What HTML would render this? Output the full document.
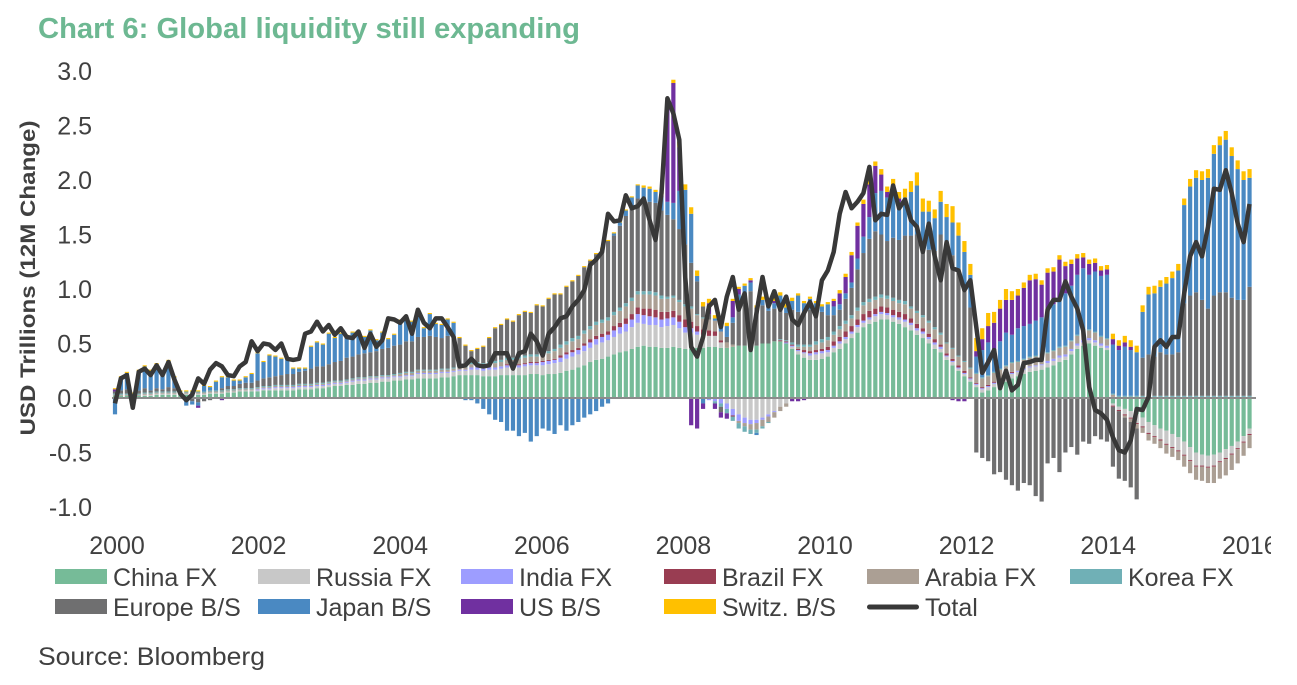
<!DOCTYPE html>
<html><head><meta charset="utf-8"><style>
body{margin:0;background:#fff;width:1297px;height:685px;overflow:hidden;font-family:"Liberation Sans",sans-serif;}
svg{position:absolute;left:0;top:0}
</style></head><body>
<svg id="chart" width="1297" height="685" viewBox="0 0 1297 685">
<defs><clipPath id="clipx"><rect x="0" y="0" width="1271" height="685"/></clipPath></defs>
<text x="38" y="38" font-size="29" font-weight="bold" fill="#6db892" textLength="542" lengthAdjust="spacingAndGlyphs">Chart 6: Global liquidity still expanding</text>
<text transform="translate(35,278) rotate(-90)" text-anchor="middle" font-size="21" font-weight="bold" fill="#404040" textLength="315" lengthAdjust="spacingAndGlyphs">USD Trillions (12M Change)</text>
<text x="38" y="665" font-size="25" fill="#404040" textLength="227" lengthAdjust="spacingAndGlyphs">Source: Bloomberg</text>
<g id="bars"></g><g id="axes"></g><g id="legend"></g>
</svg>
<script>
const years=["2000","2002","2004","2006","2008","2010","2012","2014","2016"];
const yTicks=[3.0,2.5,2.0,1.5,1.0,0.5,0.0,-0.5,-1.0];
const china=[.02,.02,.02,.02,.02,.02,.02,.03,.03,.03,.03,.03,
.03,.03,.03,.03,.04,.04,.04,.05,.05,.06,.06,.06,
.06,.07,.07,.07,.07,.07,.07,.08,.08,.08,.09,.09,
.10,.11,.11,.12,.12,.13,.13,.14,.14,.15,.15,.16,
.16,.17,.17,.18,.18,.18,.18,.19,.19,.20,.21,.21,
.21,.21,.20,.20,.20,.21,.21,.21,.21,.21,.22,.22,
.21,.22,.22,.23,.25,.26,.28,.30,.33,.35,.36,.38,
.40,.42,.43,.45,.47,.48,.47,.47,.46,.46,.47,.46,
.45,.45,.46,.46,.47,.47,.46,.46,.47,.48,.48,.48,
.48,.50,.50,.52,.52,.50,.45,.40,.37,.35,.35,.36,
.38,.42,.45,.50,.55,.60,.65,.68,.70,.72,.72,.70,
.68,.65,.62,.58,.55,.50,.45,.42,.35,.30,.25,.20,
.15,.10,.05,.07,.10,.12,.15,.18,.20,.22,.24,.25,
.26,.28,.30,.33,.35,.40,.45,.48,.50,.48,.46,.44,
-.05,-.08,-.10,-.12,-.15,-.18,-.22,-.25,-.28,-.30,-.33,-.36,
-.40,-.45,-.50,-.52,-.53,-.52,-.50,-.47,-.44,-.40,-.35,-.28];
const russia=[0,0,0,0,0,.01,.01,.01,.01,.01,.01,.01,
.01,.01,.01,.01,.01,.01,.01,.01,.01,.01,.01,.01,
.01,.01,.01,.02,.02,.02,.02,.02,.02,.02,.02,.02,
.02,.02,.02,.02,.03,.03,.03,.03,.03,.03,.03,.03,
.03,.03,.03,.04,.04,.04,.04,.04,.04,.04,.04,.04,
.05,.05,.05,.06,.06,.06,.07,.07,.07,.08,.08,.08,
.09,.09,.10,.10,.11,.12,.12,.13,.13,.14,.15,.15,
.16,.17,.18,.20,.22,.20,.20,.20,.19,.20,.20,.18,
.15,.15,.12,.12,.10,.10,.05,-.05,-.10,-.15,-.18,-.20,
-.20,-.18,-.15,-.12,-.08,-.05,.02,.03,.04,.04,.05,.05,
.04,.04,.05,.04,.04,.05,.04,.04,.05,.05,.04,.04,
.04,.05,.05,.04,.04,.04,.04,.03,.03,.03,.02,.02,
.02,.02,.03,.03,.03,.04,.04,.04,.04,.04,.04,.04,
.04,.04,.04,.04,.03,.03,.03,.03,.03,.03,.02,.02,
-.02,-.03,-.05,-.06,-.08,-.08,-.10,-.10,-.10,-.12,-.12,-.12,
-.12,-.12,-.12,-.10,-.10,-.10,-.08,-.08,-.07,-.06,-.05,-.05];
const india=[0,0,0,0,0,0,0,0,0,0,0,0,
0,0,0,0,0,0,0,0,0,0,0,0,
.01,.01,.01,.01,.01,.01,.01,.01,.01,.01,.01,.01,
.01,.01,.01,.01,.01,.01,.01,.01,.01,.01,.01,.01,
.01,.01,.01,.01,.01,.01,.01,.01,.01,.01,.01,.01,
.02,.02,.02,.02,.02,.02,.02,.02,.02,.02,.02,.02,
.03,.03,.03,.04,.04,.04,.04,.05,.05,.05,.05,.05,
.06,.06,.07,.07,.08,.08,.08,.07,.07,.07,.07,.06,
.05,.04,.03,0,-.02,-.03,-.05,-.05,-.06,-.06,-.05,-.04,
-.03,-.02,-.02,-.01,0,.01,.01,.01,.01,.02,.02,.02,
.02,.02,.02,.02,.02,.02,.02,.02,.02,.02,.02,.02,
.02,.02,.02,.02,.02,.02,.02,.02,.01,.01,.01,.01,
.01,.01,.01,.01,.01,.01,.01,.01,.01,.01,.01,.01,
.01,.02,.02,.02,.02,.02,.02,.02,.02,.02,.02,.02,
.01,.01,.01,.01,.01,.01,.01,.01,.01,.01,.01,.01,
.01,.01,.01,.01,.01,.01,.01,.01,.01,.01,.01,.01];
const brazil=[0,0,0,0,0,0,0,0,0,0,0,0,
0,0,0,0,0,0,0,0,0,0,0,0,
0,0,0,0,0,0,0,0,0,0,0,0,
0,0,0,0,0,0,0,0,0,0,0,0,
0,0,0,0,0,0,0,0,0,0,0,0,
0,0,0,0,0,0,.01,.01,.01,.01,.01,.01,
.01,.01,.01,.02,.02,.02,.02,.02,.03,.03,.03,.03,
.04,.04,.05,.05,.06,.06,.07,.07,.07,.06,.06,.06,
.07,.06,.05,.05,.05,.04,.02,0,-.01,0,0,0,
0,0,0,0,.01,.01,.01,.01,.02,.02,.02,.02,
.03,.04,.04,.05,.05,.05,.06,.06,.05,.05,.05,.05,
.05,.05,.04,.04,.03,.03,.03,.02,.02,.02,.02,.02,
.01,.01,.01,.01,.01,.01,.01,.01,0,0,0,0,
0,0,0,0,0,0,0,0,0,0,0,0,
-.01,-.01,-.01,-.01,-.01,-.01,-.01,-.01,-.01,-.01,-.01,-.01,
-.01,-.01,-.01,-.01,-.01,-.01,-.01,-.01,-.01,-.01,-.01,-.01];
const arabia=[.01,.01,.01,.01,.01,.01,.01,.01,.01,.01,.01,.01,
.01,.01,.01,.01,.01,.01,.01,.01,.01,.01,.01,.01,
.01,.01,.01,.01,.01,.01,.01,.01,.01,.01,.01,.01,
.01,.01,.01,.01,.01,.01,.01,.01,.01,.01,.01,.01,
.02,.02,.02,.02,.02,.02,.02,.02,.02,.02,.02,.02,
.03,.03,.03,.03,.04,.04,.04,.04,.05,.05,.05,.05,
.06,.06,.07,.07,.07,.08,.08,.09,.09,.10,.10,.10,
.10,.11,.11,.12,.12,.13,.13,.13,.12,.12,.12,.12,
.12,.12,.10,.10,.10,.10,.08,.05,.02,-.02,-.03,-.05,
-.06,-.06,-.05,-.05,-.04,-.03,0,.02,.03,.04,.05,.06,
.06,.06,.07,.07,.07,.08,.08,.08,.08,.08,.08,.08,
.08,.09,.09,.10,.10,.10,.09,.09,.09,.09,.08,.08,
.08,.08,.08,.08,.08,.08,.08,.08,.08,.08,.08,.08,
.07,.07,.07,.07,.07,.07,.07,.07,.07,.07,.06,.06,
.02,0,-.02,-.03,-.04,-.05,-.06,-.06,-.07,-.08,-.08,-.08,
-.10,-.11,-.12,-.13,-.14,-.15,-.15,-.15,-.14,-.13,-.12,-.12];
const korea=[.01,.01,.01,.01,.01,.01,.01,.01,.01,.01,.01,.01,
.01,.01,.01,.01,.01,.01,.01,.01,.01,.01,.01,.01,
.01,.01,.01,.01,.01,.01,.01,.01,.01,.01,.01,.01,
.01,.01,.01,.01,.01,.01,.01,.01,.01,.01,.01,.01,
.01,.01,.01,.01,.01,.01,.01,.01,.01,.01,.02,.02,
.02,.02,.02,.02,.02,.02,.02,.02,.02,.02,.02,.02,
.02,.02,.02,.03,.03,.03,.03,.03,.03,.03,.03,.03,
.03,.03,.03,.03,.03,.03,.03,.03,.03,.02,.02,.02,
.02,.02,.01,.01,0,-.02,-.03,-.04,-.04,-.05,-.05,-.04,
-.03,-.02,-.01,0,.01,.01,.02,.02,.02,.02,.03,.03,
.03,.03,.03,.03,.03,.03,.03,.03,.03,.03,.03,.03,
.03,.03,.02,.02,.02,.02,.02,.02,.01,.01,.01,.01,
.01,.01,.01,.01,.01,.01,.01,.01,.01,.01,.01,.01,
.01,.01,.01,.01,.01,.01,.01,.01,.01,.01,.01,.01,
.01,.01,.01,.01,.01,.01,.01,.01,.01,.01,.01,.01,
.01,.01,.01,.01,.01,.01,.01,.01,.01,.01,.01,.01];
const europe=[.02,.03,.04,0,.03,.04,.02,.03,.02,.04,.03,0,
-.02,-.03,-.04,-.03,-.02,0,.02,.03,.03,.04,.05,.05,
.06,.07,.08,.08,.09,.10,.10,.11,.12,.14,.15,.15,
.16,.17,.18,.20,.20,.21,.22,.22,.23,.24,.25,.26,
.26,.28,.28,.30,.30,.31,.30,.28,.30,.29,.25,.18,
.10,.12,.15,.22,.30,.32,.35,.33,.38,.40,.38,.45,
.42,.48,.50,.46,.50,.52,.55,.58,.60,.62,.65,.70,
.70,.75,.80,.82,.85,.85,.82,.82,.78,.75,.70,.65,
.55,.40,.30,.10,.05,0,-.05,.05,.20,.35,.45,.50,
.35,.35,.30,.30,.28,.25,.30,.30,.30,.32,.30,.25,
.20,.15,.15,.20,.25,.35,.45,.55,.60,.55,.50,.55,
.55,.60,.65,.70,.60,.65,.70,.90,.85,.85,.80,.70,
.55,-.50,-.55,-.58,-.70,-.68,-.75,-.80,-.85,-.78,-.80,-.90,
-.95,-.60,-.55,-.68,-.50,-.45,-.52,-.40,-.42,-.35,-.38,-.40,
-.55,-.62,-.58,-.60,-.65,.35,.38,.36,.40,.38,.38,.40,
.85,.92,.95,.88,.80,.92,.95,.95,.90,.88,.88,1.0];
const japan=[-.15,.12,.15,0,.18,.20,.18,.22,.15,.24,.10,0,
-.05,-.03,-.03,.05,.03,.08,.10,.08,.05,.03,.05,.08,
.25,.15,.20,.18,.15,.14,.05,.03,.02,.20,.22,.20,
.28,.22,.25,.20,.22,.18,.15,.20,.10,.15,.08,.10,
.22,.20,.18,.22,.08,.20,.12,.12,.15,.12,0,-.02,
-.02,-.05,-.10,-.15,-.20,-.22,-.30,-.30,-.35,-.32,-.40,-.35,
-.28,-.30,-.33,-.25,-.30,-.25,-.22,-.18,-.15,-.12,-.08,-.05,
.02,.03,.05,.10,.12,.10,.12,.10,.12,.12,.15,.35,
.50,.45,.05,-.05,0,.02,.05,.10,.05,.12,.10,.08,
-.02,.05,.08,.05,.12,.05,.08,.15,.08,.10,.05,.05,
.10,.08,.05,.05,.05,.10,.15,.20,.35,.40,.40,.45,
.35,.35,.40,.45,.35,.35,.30,.30,.30,.30,.30,.30,
.30,.15,.25,.30,.20,.25,.30,.25,.30,.30,.30,.32,
.35,.38,.42,.45,.48,.50,.55,.58,.50,.55,.55,.58,
.45,.42,.45,.42,.40,.42,.55,.58,.60,.65,.70,.75,
.90,1.0,1.05,1.10,1.20,1.30,1.35,1.40,1.30,1.20,1.10,1.0];
const us=[.02,0,0,-.02,0,0,0,0,0,0,0,0,
0,0,-.02,0,0,0,-.02,0,0,0,0,0,
0,0,0,0,0,0,0,0,0,0,0,0,
0,0,0,0,0,.01,0,0,0,0,0,0,
0,0,0,0,0,0,0,0,0,0,0,0,
0,0,0,0,0,0,0,0,0,0,0,0,
0,0,0,0,0,0,0,0,0,0,0,0,
0,0,0,0,0,0,0,0,.02,.90,1.10,.40,
0,-.25,-.28,-.05,.10,-.05,-.05,-.05,.15,.05,0,.02,
0,0,0,.02,0,0,-.03,-.03,-.02,0,0,0,
0,.05,.10,.15,.25,.30,.30,.30,.25,.15,.05,.03,
.03,0,0,0,0,0,0,0,0,-.02,-.03,-.03,
0,.05,.10,.15,.25,.30,.30,.32,.30,.35,.40,.38,
.30,.35,.30,.35,.25,.20,.15,.10,.10,.08,.05,.05,
.05,.04,.04,.03,0,0,0,0,0,0,0,0,
0,0,0,0,0,0,0,0,0,0,0,0];
const swiss=[.01,.01,.01,.01,.01,.01,.01,.01,.01,.01,.01,.01,
.01,.01,.01,.01,.01,.01,.01,.01,.01,.01,.01,.01,
.01,.01,.01,.01,.01,.01,.01,.01,.01,.01,.01,.01,
.01,.01,.01,.01,.01,.01,.01,.01,.01,.01,.01,.01,
.01,.01,.01,.01,.01,.01,.01,.01,.01,.01,.01,.01,
.01,.01,.01,.01,.01,.01,.01,.01,.01,.01,.01,.01,
.01,.01,.01,.01,.01,.01,.01,.01,.01,.01,.01,.01,
.01,.01,.01,.01,.01,.02,.02,.02,.03,.03,.03,.05,
.05,.06,.05,.04,.04,.03,.03,.03,.02,.02,.02,.02,
.02,.03,.03,.03,.03,.03,.03,.02,.02,.02,.02,.02,
.02,.02,.03,.03,.03,.03,.04,.04,.04,.05,.05,.06,
.06,.08,.10,.12,.12,.10,.08,.10,.12,.15,.12,.10,
.10,.12,.10,.12,.10,.08,.10,.08,.06,.05,.05,.05,
.04,.04,.04,.04,.04,.04,.04,.04,.04,.04,.04,.04,
.05,.05,.06,.06,.06,.06,.07,.07,.06,.06,.06,.06,
.06,.07,.07,.08,.08,.08,.08,.08,.08,.08,.08,.08];
const total=[-.05,.18,.21,-.09,.24,.27,.21,.30,.21,.33,.17,.04,
-.02,.03,.18,.13,.26,.32,.29,.21,.20,.29,.33,.52,
.43,.50,.49,.44,.50,.36,.35,.36,.59,.61,.70,.61,
.67,.58,.64,.56,.55,.61,.46,.59,.47,.53,.73,.72,
.69,.75,.59,.81,.69,.64,.73,.73,.65,.56,.29,.30,
.36,.30,.29,.30,.41,.41,.41,.27,.41,.43,.59,.52,
.39,.59,.65,.73,.75,.84,.90,.99,1.22,1.27,1.34,1.69,
1.62,1.63,1.86,1.74,1.76,1.83,1.63,1.45,1.88,2.75,2.61,2.37,
1.11,.47,.38,.56,.84,.90,.65,.93,1.11,.81,.96,.44,
.78,1.11,.84,.98,.81,.93,.72,.67,.78,.88,.75,1.08,
1.17,1.34,1.69,1.89,1.74,1.80,1.88,2.12,1.63,1.69,1.68,1.95,
1.74,1.82,1.63,1.57,1.34,1.60,1.30,1.08,1.43,1.19,1.17,.99,
1.08,.65,.23,.33,.44,.09,.25,.07,.12,.32,.33,.35,
.35,.81,.90,.90,1.07,.93,.82,.62,.10,-.11,-.14,-.20,
-.36,-.48,-.50,-.39,-.10,-.11,.01,.47,.53,.47,.56,.56,
.96,1.30,1.43,1.30,1.57,1.92,1.91,2.09,1.88,1.60,1.43,1.78];
const seriesNames=["China FX","Russia FX","India FX","Brazil FX","Arabia FX","Korea FX","Europe B/S","Japan B/S","US B/S","Switz. B/S"];
const seriesData=[china,russia,india,brazil,arabia,korea,europe,japan,us,swiss];
const colors=["#76bb98","#c8c8c8","#9d9dff","#993d52","#ab9f94","#70b0b6","#6f6f70","#4a89c2","#7030a0","#ffc000"];
const NS="http://www.w3.org/2000/svg";
const y0=398, unit=109;
function yS(v){return y0-v*unit;}
function xS(i){return 115+i*5.94;}
const bars=document.getElementById('bars');
for(let i=0;i<total.length;i++){
  let pos=0,neg=0;
  for(let s=0;s<seriesData.length;s++){
    const v=seriesData[s][i]; if(!v) continue;
    const r=document.createElementNS(NS,'rect');
    let top,h;
    if(v>0){top=yS(pos+v);h=v*unit;pos+=v;}else{top=yS(neg);h=-v*unit;neg+=v;}
    r.setAttribute('x',xS(i)-2.1);r.setAttribute('y',top);
    r.setAttribute('width',4.2);r.setAttribute('height',h);
    r.setAttribute('fill',colors[s]);
    
    
    bars.appendChild(r);
  }
}
const axes=document.getElementById('axes');
const zl=document.createElementNS(NS,'line');
zl.setAttribute('x1',112);zl.setAttribute('x2',1256);zl.setAttribute('y1',y0);zl.setAttribute('y2',y0);
zl.setAttribute('stroke','#8c8c8c');zl.setAttribute('stroke-width',2);


axes.appendChild(zl);
let d='';
for(let i=0;i<total.length;i++){d+=(i?'L':'M')+xS(i).toFixed(1)+','+yS(total[i]).toFixed(1);}
const line=document.createElementNS(NS,'path');
line.setAttribute('d',d);line.setAttribute('fill','none');line.setAttribute('stroke','#383838');
line.setAttribute('stroke-width',4.5);line.setAttribute('stroke-linejoin','round');


axes.appendChild(line);
yTicks.forEach(t=>{
  const tx=document.createElementNS(NS,'text');
  tx.setAttribute('x',92);tx.setAttribute('y',yS(t)+9);tx.setAttribute('text-anchor','end');
  tx.setAttribute('font-size',25);tx.setAttribute('fill','#404040');
  tx.textContent=t.toFixed(1);
  
  
  axes.appendChild(tx);
});
years.forEach((yr,k)=>{
  const tx=document.createElementNS(NS,'text');
  tx.setAttribute('x',117+k*141.6);tx.setAttribute('y',554);tx.setAttribute('text-anchor','middle');
  tx.setAttribute('font-size',25);tx.setAttribute('fill','#404040');
  tx.setAttribute('clip-path','url(#clipx)');
  tx.textContent=yr;
  
  
  axes.appendChild(tx);
});
const leg=document.getElementById('legend');
const legNames=seriesNames.concat(["Total"]);
legNames.forEach((n,k)=>{
  const row=k<6?0:1, col=k<6?k:k-6;
  const lx=55+col*203, ly=row?607:577;
  const g=document.createElementNS(NS,'g');
  
  
  const sw=document.createElementNS(NS,'rect');
  if(k<10){sw.setAttribute('x',lx);sw.setAttribute('y',ly-8);sw.setAttribute('width',52);sw.setAttribute('height',15);sw.setAttribute('fill',colors[k]);}
  else{sw.setAttribute('x',lx);sw.setAttribute('y',ly-2.5);sw.setAttribute('width',52);sw.setAttribute('height',5);sw.setAttribute('rx',2.5);sw.setAttribute('fill','#383838');}
  
  
  g.appendChild(sw);
  const tx=document.createElementNS(NS,'text');
  tx.setAttribute('x',lx+58);tx.setAttribute('y',ly+9);tx.setAttribute('font-size',25);tx.setAttribute('fill','#404040');
  tx.textContent=n;
  
  
  g.appendChild(tx);
  leg.appendChild(g);
});
</script>
</body></html>
